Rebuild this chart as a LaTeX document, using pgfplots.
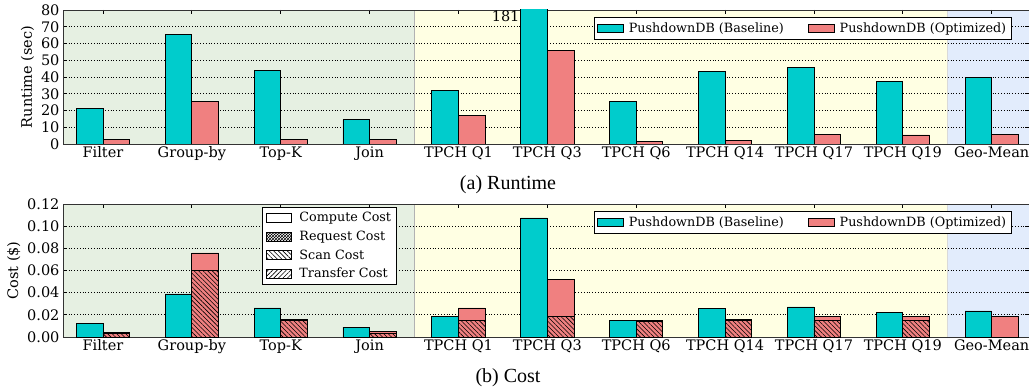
\documentclass[border=0pt]{standalone}
\usepackage{pgfplots}
\pgfplotsset{compat=1.18}
\usepackage{fontspec}
\setmainfont{DejaVu Serif}
\newfontfamily\capfont{Liberation Serif}
\usetikzlibrary{patterns,patterns.meta}
\definecolor{base}{RGB}{0,204,204}
\definecolor{opt}{RGB}{240,128,128}
\definecolor{bggreen}{RGB}{230,240,226}
\definecolor{bgyellow}{RGB}{255,255,227}
\definecolor{bgblue}{RGB}{226,236,252}
\newcommand{\tickfont}{\fontsize{14.5}{17}\selectfont}
\newcommand{\legfont}{\fontsize{12.75}{15}\selectfont}
\pgfplotsset{
  common/.style={
    set layers,
    scale only axis, width=966pt,
    xmin=-0.45, xmax=10.42,
    xtick={0,...,10},
    xticklabels={Filter,Group-by,Top-K,Join,TPCH Q1,TPCH Q3,TPCH Q6,TPCH Q14,TPCH Q17,TPCH Q19,Geo-Mean},
    tick align=inside, major tick length=4pt,
    axis line style={black!80, line width=0.8pt},
    tick style={black, line width=0.8pt},
    ymajorgrids,
    grid style={black, line width=0.7pt, dash pattern=on 0.8pt off 2pt},
    ticklabel style={font=\tickfont},
    label style={font=\tickfont},
    xticklabel style={yshift=1pt},
    /pgf/number format/assume math mode=true,
    clip=true,
  },
  mybar/.style={ybar, bar width=0.3, draw=black, line width=0.8pt,
    legend image code/.code={\draw[##1, line width=0.8pt] (0pt,-4pt) rectangle (26pt,4pt);}},
  toplegend/.style={legend style={at={(rel axis cs:0.982,0.948)}, anchor=north east,
    draw=black, line width=0.8pt, fill=white, font=\legfont, legend columns=2,
    inner xsep=3pt, inner ysep=3.5pt,
    /tikz/every odd column/.append style={column sep=3pt},
    /tikz/every even column/.append style={column sep=22pt}}},
}
\begin{document}
\begin{tikzpicture}
% ---------------- Runtime ----------------
\begin{axis}[common, at={(63pt,245pt)}, anchor=south west, height=134pt,
  ymin=0, ymax=80, ytick={0,10,...,80}, ylabel={Runtime (sec)},
  axis on top, toplegend]
\begin{pgfonlayer}{axis background}
\fill[bggreen] (axis cs:-0.45,0) rectangle (axis cs:3.5,80);
\fill[bgyellow] (axis cs:3.5,0) rectangle (axis cs:9.5,80);
\fill[bgblue] (axis cs:9.5,0) rectangle (axis cs:10.42,80);
\draw[black!30, line width=0.8pt] (axis cs:3.5,0) -- (axis cs:3.5,80);
\draw[black!15, line width=0.8pt] (axis cs:9.5,0) -- (axis cs:9.5,80);
\end{pgfonlayer}
\addplot[mybar, fill=base, bar shift=-0.15] coordinates {
 (0,21) (1,65.5) (2,44) (3,14.5) (4,32.2) (5,181) (6,25.5) (7,43.2) (8,45.6) (9,37.2) (10,39.6)};
\addlegendentry{PushdownDB (Baseline)}
\addplot[mybar, fill=opt, bar shift=0.15] coordinates {
 (0,2.6) (1,25.5) (2,2.6) (3,2.6) (4,17.1) (5,55.7) (6,1.6) (7,2.2) (8,5.8) (9,5.4) (10,5.8)};
\addlegendentry{PushdownDB (Optimized)}
\node[anchor=north east, font=\tickfont, inner sep=1pt] at (axis cs:4.7,80) {181};
\end{axis}
\node[font=\capfont\fontsize{20}{23}\selectfont] at (508pt,204pt) {(a) Runtime};
% ---------------- Cost ----------------
\begin{axis}[common, at={(63pt,52pt)}, anchor=south west, height=133pt,
  ymin=0, ymax=0.12, ytick={0,0.02,0.04,0.06,0.08,0.1,0.12}, ylabel={Cost (\$)},
  scaled y ticks=false,
  yticklabel style={/pgf/number format/.cd, fixed, fixed zerofill, precision=2},
  toplegend]
\begin{pgfonlayer}{axis background}
\fill[bggreen] (axis cs:-0.45,0) rectangle (axis cs:3.5,0.12);
\fill[bgyellow] (axis cs:3.5,0) rectangle (axis cs:9.5,0.12);
\fill[bgblue] (axis cs:9.5,0) rectangle (axis cs:10.42,0.12);
\draw[black!30, line width=0.8pt] (axis cs:3.5,0) -- (axis cs:3.5,0.12);
\draw[black!15, line width=0.8pt] (axis cs:9.5,0) -- (axis cs:9.5,0.12);
\end{pgfonlayer}
\addplot[mybar, fill=base, bar shift=-0.15] coordinates {
 (0,0.0123) (1,0.0388) (2,0.0262) (3,0.009) (4,0.0189) (5,0.1074) (6,0.0147) (7,0.0256) (8,0.0271) (9,0.022) (10,0.0235)};
\addlegendentry{PushdownDB (Baseline)}
\addplot[mybar, fill=opt, bar shift=0.15] coordinates {
 (0,0.0045) (1,0.0758) (2,0.0159) (3,0.0051) (4,0.0262) (5,0.052) (6,0.0153) (7,0.0162) (8,0.0183) (9,0.0183) (10,0.0183)};
\addlegendentry{PushdownDB (Optimized)}
\addplot[mybar, fill=opt, bar shift=0.15, forget plot,
  postaction={pattern={Lines[angle=-45,distance=3.2pt,line width=0.6pt]}, pattern color=black}] coordinates {
 (0,0.003) (1,0.0604) (2,0.015) (3,0.0036) (4,0.0153) (5,0.0186) (6,0.0141) (7,0.0147) (8,0.0147) (9,0.0147)};
\end{axis}
% hatch legend
\begin{axis}[scale only axis, width=966pt, height=133pt, at={(63pt,52pt)}, anchor=south west,
  hide axis, xmin=0, xmax=1, ymin=0, ymax=1,
  legend cell align=left,
  legend style={at={(rel axis cs:0.3458,0.977)}, anchor=north east,
    draw=black, line width=0.8pt, fill=white, font=\legfont,
    inner xsep=3.5pt, inner ysep=3pt, row sep=3.6pt,
    /tikz/every odd column/.append style={column sep=6pt}}]
\addlegendimage{legend image code/.code={\draw[black, line width=0.8pt, fill=white] (0pt,-4.5pt) rectangle (25pt,4.5pt);}}
\addlegendentry{Compute Cost}
\addlegendimage{legend image code/.code={\draw[black, line width=0.8pt, pattern=crosshatch, pattern color=black] (0pt,-4.5pt) rectangle (25pt,4.5pt);}}
\addlegendentry{Request Cost}
\addlegendimage{legend image code/.code={\draw[black, line width=0.8pt, pattern={Lines[angle=-45,distance=3.2pt,line width=0.6pt]}, pattern color=black] (0pt,-4.5pt) rectangle (25pt,4.5pt);}}
\addlegendentry{Scan Cost}
\addlegendimage{legend image code/.code={\draw[black, line width=0.8pt, pattern={Lines[angle=45,distance=3.2pt,line width=0.6pt]}, pattern color=black] (0pt,-4.5pt) rectangle (25pt,4.5pt);}}
\addlegendentry{Transfer Cost}
\end{axis}
\node[font=\capfont\fontsize{20}{23}\selectfont] at (508pt,11pt) {(b) Cost};
\pgfresetboundingbox
\useasboundingbox (0,0) rectangle (1029pt,389pt);
\end{tikzpicture}
\end{document}
